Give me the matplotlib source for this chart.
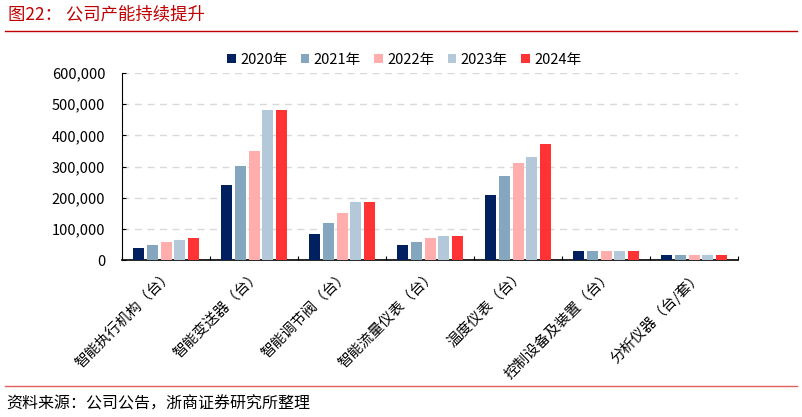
import matplotlib
matplotlib.use("Agg")
import matplotlib.pyplot as plt
import numpy as np
from matplotlib.ticker import FuncFormatter

plt.rcParams['font.family'] = ['Noto Sans CJK SC', 'DejaVu Sans']

categories = ["智能执行机构（台）", "智能变送器（台）", "智能调节阀（台）", "智能流量仪表（台）",
              "温度仪表（台）", "控制设备及装置（台）", "分析仪器（台/套）"]
years = ["2020年", "2021年", "2022年", "2023年", "2024年"]
v2020 = [39000, 240000, 84000, 47000, 210000, 30000, 16000]
v2021 = [49000, 302000, 120000, 57000, 271000, 30000, 16000]
v2022 = [59000, 351000, 150000, 69000, 311000, 30000, 16000]
v2023 = [65000, 480000, 185000, 78000, 331000, 30000, 16000]
v2024 = [70000, 480000, 185000, 78000, 372000, 30000, 16000]
colors = ["#002060", "#84A6BF", "#FFADAD", "#B3C8D8", "#FF3333"]

series = [v2020, v2021, v2022, v2023, v2024]

fig = plt.figure(figsize=(8.02, 4.17), dpi=100)
ax = fig.add_axes([122 / 802, 1 - 260 / 417, (738 - 122) / 802, (260 - 73) / 417])

x = np.arange(len(categories))
step = 0.155
width = 0.125
for i, (vals, col, lab) in enumerate(zip(series, colors, years)):
    ax.bar(x + (i - 2) * step, vals, width=width, color=col, label=lab, zorder=3)

ax.set_xlim(-0.5, len(categories) - 0.5)
ax.set_ylim(0, 600000)
ax.set_yticks(np.arange(0, 600001, 100000))
ax.yaxis.set_major_formatter(FuncFormatter(lambda v, p: f"{int(v):,}"))
ax.tick_params(axis='y', labelsize=10.5, length=3, direction='in', pad=12)
ax.grid(axis='y', color='#D9D9D9', linestyle=(0, (5, 4)), linewidth=1, zorder=0)

ax.set_xticks(np.arange(-0.5, len(categories), 1))
ax.set_xticklabels([])
ax.set_xticks(x, minor=True)
ax.set_xticklabels(categories, minor=True, rotation=45, ha='right', va='top',
                   rotation_mode='anchor', fontsize=10.5)
ax.tick_params(axis='x', which='major', length=3, direction='in')
ax.tick_params(axis='x', which='minor', length=0, pad=6)

for s in ['top', 'right']:
    ax.spines[s].set_visible(False)
ax.spines['left'].set_color('black')
ax.spines['bottom'].set_color('black')
ax.spines['bottom'].set_linewidth(1.2)

ax.legend(loc='center', bbox_to_anchor=(0.458, 1.07), ncol=5, frameon=False,
          fontsize=10.5, handlelength=0.6, handleheight=0.6, handletextpad=0.3,
          columnspacing=0.9)

fig.text(8 / 802, 1 - 14 / 417, "图22： 公司产能持续提升", color='#C00000', fontsize=12.5,
         va='center', ha='left')
fig.add_artist(plt.Line2D([5 / 802, 797 / 802], [1 - 31 / 417, 1 - 31 / 417],
                          color='#C00000', linewidth=1))
fig.add_artist(plt.Line2D([5 / 802, 797 / 802], [1 - 386 / 417, 1 - 386 / 417],
                          color='#E06060', linewidth=1))
fig.text(6 / 802, 1 - 404 / 417, "资料来源：公司公告，浙商证券研究所整理", fontsize=11.5,
         va='center', ha='left', color='black')

fig.savefig("out.png", dpi=100)
